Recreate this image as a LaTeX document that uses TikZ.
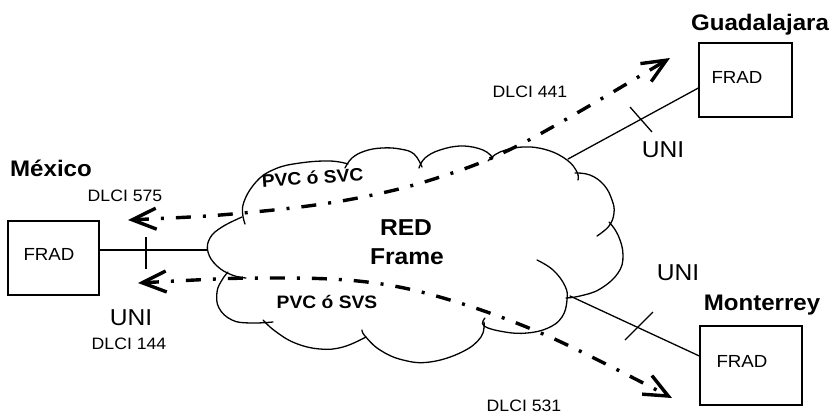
\documentclass[tikz,border=0pt]{standalone}
\usepackage{fontspec}
\setmainfont{Liberation Sans}[FakeStretch=1.07]
\usetikzlibrary{arrows.meta}
\newcommand\pvcfont{\fontsize{18}{20}\selectfont\bfseries}
\begin{document}
\begin{tikzpicture}[x=1pt,y=-1pt,
  outline/.style={line width=1.3pt, line cap=round},
  box/.style={draw, line width=1.3pt, inner sep=0pt},
  lbl/.style={anchor=base, inner sep=0pt},
  city/.style={lbl, font=\fontsize{22.5}{26}\selectfont\bfseries},
  dlci/.style={lbl, font=\fontsize{16.5}{19}\selectfont},
  uni/.style={lbl, font=\fontsize{23}{26}\selectfont},
  fradtxt/.style={lbl, font=\fontsize{17.5}{20}\selectfont},
  redtxt/.style={lbl, font=\fontsize{23}{26}\selectfont\bfseries},
  pvctxt/.style={anchor=base, inner sep=0pt, font=\pvcfont},
  barb/.tip={Straight Barb[length=24pt,width=21pt,line width=3.4pt]},
  pvc/.style={line width=3.4pt, dash pattern=on 15pt off 12pt on 3pt off 12pt, barb-barb},
  tickmark/.style={line width=1.3pt}
]
\useasboundingbox (0,0) rectangle (833,416);
\fill[white] (0,0) rectangle (833,416);

% FRAD boxes
\node[box, minimum width=91pt, minimum height=74pt] (mexbox) at (53.5,258) {};
\node[box, minimum width=93pt, minimum height=74pt] (gdlbox) at (745.5,80) {};
\node[box, minimum width=102pt, minimum height=79pt] (monbox) at (751,365.5) {};
\node[fradtxt] (mexfrad) at (49,260) {FRAD};
\node[fradtxt] (gdlfrad) at (737,83) {FRAD};
\node[fradtxt] (monfrad) at (742,367) {FRAD};

% the network cloud, lobe by lobe
\draw[outline] plot[smooth, tension=0.7] coordinates {(245,224) (243,205) (256,182) (275,169) (300,163) (330,161) (348,164)};
\draw[outline] plot[smooth, tension=0.7] coordinates {(345,168) (352,158) (365,151) (382,148) (400,149) (414,154) (422,167)};
\draw[outline] plot[smooth, tension=0.7] coordinates {(419,168) (425,158) (440,150) (462,146) (483,150) (493,158)};
\draw[outline] plot[smooth, tension=0.7] coordinates {(488,161) (500,152) (523,147) (547,150) (567,160) (577,172) (578,180)};
\draw[outline] plot[smooth, tension=0.7] coordinates {(575,173) (590,175) (604,185) (612,200) (614,213) (609,226) (597,236)};
\draw[outline] plot[smooth, tension=0.7] coordinates {(609,222) (618,235) (623,255) (618,273) (600,289) (580,296) (566,298)};
\draw[outline] plot[smooth, tension=0.7] coordinates {(537,260) (553,270) (565,286) (567,300) (562,317) (548,328) (527,333) (505,332) (484,326) (485,318)};
\draw[outline] plot[smooth, tension=0.7] coordinates {(484,322) (481,337) (462,352) (430,362) (403,360) (380,350) (365,336) (362,330)};
\draw[outline] plot[smooth, tension=0.7] coordinates {(366,337) (343,347) (320,349) (295,343) (275,331) (263,320)};
\draw[outline] plot[smooth, tension=0.7] coordinates {(273,322) (250,323) (232,320) (219,308) (217,292) (222,280) (228,272)};
\draw[outline] plot[smooth, tension=0.7] coordinates {(246,278) (232,275) (217,266) (208,252) (210,238) (222,227) (242,217)};

% access links from the FRADs into the cloud
\coordinate (cw) at (207,250);
\coordinate (cne) at (568,159);
\coordinate (cse) at (570,296);
\draw[outline] ([yshift=8pt]mexbox.east) -- (cw);
\draw[outline] (cne) -- ([yshift=-8pt]gdlbox.west);
\draw[outline] (cse) -- ([yshift=9.5pt]monbox.west);

% UNI marks
\draw[tickmark] (146,237) -- (146,269);
\draw[tickmark] (630,107) -- (652,132);
\draw[tickmark] (653,312) -- (625,340);

% virtual circuits
\coordinate (m1) at (128,220);
\coordinate (g1) at (670,58);
\coordinate (m2) at (138,283);
\coordinate (t2) at (672,398);
\draw[pvc] plot[smooth, tension=0.6] coordinates {(m1) (243,213) (347,200) (437,178) (525,142) (g1)};
\draw[pvc] plot[smooth, tension=0.6] coordinates {(m2) (267,278) (367,282) (450,300) (550,337) (t2)};

% labels
\node[city] (mex) at (51,176) {México};
\node[city] (gdl) at (760,30) {Guadalajara};
\node[city] (mty) at (762,310) {Monterrey};
\node[dlci] (d575) at (125,201) {DLCI 575};
\node[dlci] (d144) at (129,349) {DLCI 144};
\node[dlci] (d441) at (530,97) {DLCI 441};
\node[dlci] (d531) at (524,411) {DLCI 531};
\node[uni] (unimex) at (131,325) {UNI};
\node[uni] (unigdl) at (663,157) {UNI};
\node[uni] (unimty) at (678,280) {UNI};
\node[redtxt] (red) at (406,235) {RED};
\node[redtxt] (frame) at (407,264) {Frame};
\node[pvctxt, rotate=4] (pvcup) at (313,184) {PVC ó SVC};
\node[pvctxt] (pvclo) at (327,308) {PVC ó SVS};
\end{tikzpicture}
\end{document}
